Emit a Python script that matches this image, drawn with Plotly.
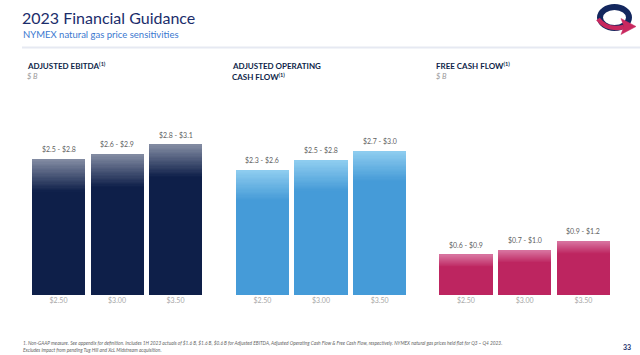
import plotly.graph_objects as go

# ---------------- data ----------------
prices = ["$2.50", "$3.00", "$3.50"]
ebitda_low = [2.5, 2.6, 2.8]
ebitda_high = [2.8, 2.9, 3.1]
ocf_low = [2.3, 2.5, 2.7]
ocf_high = [2.6, 2.8, 3.0]
fcf_low = [0.6, 0.7, 0.9]
fcf_high = [0.9, 1.0, 1.2]

W, H = 640, 355
FONT = "Lato, 'Open Sans', sans-serif"


def px(x, y):
    return x / W, 1 - y / H


def hex2rgb(h):
    h = h.lstrip("#")
    return [int(h[i:i + 2], 16) for i in (0, 2, 4)]


def mix(c1, c2, t):
    a, b = hex2rgb(c1), hex2rgb(c2)
    return "rgb(%d,%d,%d)" % tuple(round(a[i] + (b[i] - a[i]) * t) for i in range(3))


panels = [
    dict(low=ebitda_low, high=ebitda_high, solid="#0e1f49", light="#838ca3",
         depth=0.66, xa="x", ya="y", dom=(29.25, 204.75), ymax=4.02),
    dict(low=ocf_low, high=ocf_high, solid="#459bd8", light="#8fcdef",
         depth=0.62, xa="x2", ya="y2", dom=(233.0, 409.0), ymax=4.057),
    dict(low=fcf_low, high=fcf_high, solid="#bd2560", light="#d8739f",
         depth=0.26, xa="x3", ya="y3", dom=(436.6, 612.7), ymax=4.372),
]

N = 24
fig = go.Figure()
annotations = []
for p in panels:
    base = [h - p["depth"] for h in p["high"]]
    fig.add_trace(go.Bar(x=prices, y=base, marker=dict(color=p["solid"], line=dict(width=0)),
                         xaxis=p["xa"], yaxis=p["ya"], hoverinfo="skip", showlegend=False))
    for i in range(N):
        t = (i + 0.5) / N
        fig.add_trace(go.Bar(x=prices, y=[p["depth"] / N] * len(prices),
                             marker=dict(color=mix(p["solid"], p["light"], t), line=dict(width=0)),
                             xaxis=p["xa"], yaxis=p["ya"], hoverinfo="skip", showlegend=False))
    for cat, lo, hi in zip(prices, p["low"], p["high"]):
        annotations.append(dict(x=cat, y=hi, xref=p["xa"], yref=p["ya"],
                                text="$%.1f - $%.1f" % (lo, hi), showarrow=False,
                                yanchor="middle", yshift=10,
                                font=dict(family=FONT, size=7, color="#5f5f5f")))

# ---------------- text ----------------
def ann(x, y, text, size, color, xanchor="left", **kw):
    ax, ay = px(x, y)
    annotations.append(dict(x=ax, y=ay, xref="paper", yref="paper", text=text,
                            showarrow=False, xanchor=xanchor, yanchor="middle",
                            font=dict(family=FONT, size=size, color=color), **kw))


ann(20, 17, "2023 Financial Guidance", 16, "#1b2d6b")
ann(21, 35, "NYMEX natural gas price sensitivities", 9.5, "#3a78cf")

head = "#0e1f49"
ann(25, 66, "<b>ADJUSTED EBITDA<sup>(1)</sup></b>", 8, head)
ann(25, 77, "<i>$ B</i>", 7.5, "#9a9a9a")
ann(230, 66, "<b>ADJUSTED OPERATING</b>", 8, head)
ann(230, 77, "<b>CASH FLOW<sup>(1)</sup></b>", 8, head)
ann(434, 66, "<b>FREE CASH FLOW<sup>(1)</sup></b>", 8, head)
ann(434, 77, "<i>$ B</i>", 7.5, "#9a9a9a")

ann(21, 343, "<i>1. Non-GAAP measure. See appendix for definition. Includes 1H 2023 actuals of $1.6 B, $1.6 B, $0.6 B "
             "for Adjusted EBITDA, Adjusted Operating Cash Flow &amp; Free Cash Flow, respectively. NYMEX natural gas "
             "prices held flat for Q3 – Q4 2023.</i>", 4.8, "#666666")
ann(21, 350, "<i>Excludes impact from pending Tug Hill and XcL Midstream acquisition.</i>", 4.8, "#666666")
ann(633, 347, "<b>33</b>", 7, "#1b2d6b", xanchor="right")

# ---------------- shapes (rule + logo) ----------------
x0, y0 = px(22, 47.5)
x1, _ = px(640, 47.5)
shapes = [dict(type="line", xref="paper", yref="paper", x0=x0, x1=x1, y0=y0, y1=y0,
               line=dict(color="#e6e9f2", width=2))]

cx0, cy0 = px(600, 28)
cx1, cy1 = px(629, 7)
shapes.append(dict(type="circle", xref="paper", yref="paper", x0=cx0, x1=cx1, y0=cy0, y1=cy1,
                   line=dict(color="#13275e", width=6)))


def path(pts, close=False):
    s = ""
    for i, (x, y) in enumerate(pts):
        a, b = px(x, y)
        s += ("M" if i == 0 else " L") + " %.5f,%.5f" % (a, b)
    return s + (" Z" if close else "")


a1 = px(598, 19); a2 = px(607, 31); a3 = px(624, 27)
shapes.append(dict(type="path", xref="paper", yref="paper",
                   path="M %.5f,%.5f Q %.5f,%.5f %.5f,%.5f" % (a1[0], a1[1], a2[0], a2[1], a3[0], a3[1]),
                   line=dict(color="#c8285f", width=4.5)))
shapes.append(dict(type="path", xref="paper", yref="paper",
                   path=path([(621, 18.5), (636, 26.5), (621, 34.5), (624, 26.5)], close=True),
                   fillcolor="#c8285f", line=dict(color="#c8285f", width=0.5)))

# ---------------- layout ----------------
ydom = [1 - 295 / H, 1 - 100 / H]
layout = dict(
    width=W, height=H, margin=dict(l=0, r=0, t=0, b=0),
    paper_bgcolor="white", plot_bgcolor="white",
    barmode="stack", bargap=0.094,
    annotations=annotations, shapes=shapes, showlegend=False,
    font=dict(family=FONT),
)
for i, p in enumerate(panels):
    sfx = "" if i == 0 else str(i + 1)
    layout["xaxis" + sfx] = dict(domain=[p["dom"][0] / W, p["dom"][1] / W], anchor=p["ya"],
                                 type="category", showgrid=False, showline=False, zeroline=False,
                                 ticks="", tickfont=dict(family=FONT, size=7, color="#a8a8a8"),
                                 fixedrange=True)
    layout["yaxis" + sfx] = dict(domain=ydom, anchor=p["xa"], range=[0, p["ymax"]], visible=False,
                                 fixedrange=True)
fig.update_layout(**layout)
fig.write_html("out.html", config={"displayModeBar": False},
               post_script="document.body.style.margin='0';document.body.style.overflow='hidden';")
